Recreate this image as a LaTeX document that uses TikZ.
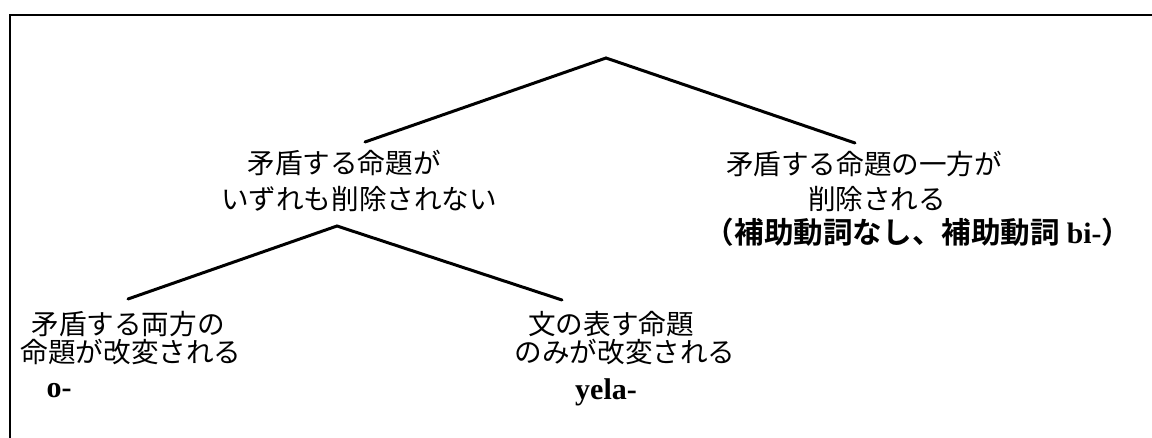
\documentclass[tikz,border=0pt]{standalone}
\usepackage{fontspec}
\setmainfont{Liberation Serif}
\newfontfamily\jp{Noto Sans CJK JP}
\newfontfamily\jpb{Noto Sans CJK JP Bold}
\begin{document}
\begin{tikzpicture}[x=0.5pt,y=-0.5pt,
  jtext/.style={anchor=base,inner sep=0pt,font=\jp\fontsize{13.8pt}{16pt}\selectfont},
  jbold/.style={anchor=base,inner sep=0pt,font=\jpb\fontsize{14.8pt}{16pt}\selectfont},
  ltext/.style={anchor=base,inner sep=0pt,font=\bfseries\fontsize{15pt}{17pt}\selectfont},
  branch/.style={line width=1.5pt,line cap=round,line join=miter},
  frame/.style={line width=1.3pt}]
\useasboundingbox (0,0) rectangle (1152,438);
\draw[frame] (10,438) -- (10,15) -- (1152,15);
% tree points
\coordinate (root) at (606,58);
\coordinate (lmid) at (365,142);
\coordinate (rmid) at (855,143);
\coordinate (lroot) at (337,226);
\coordinate (lleft) at (128,299);
\coordinate (lright) at (562,300);
\draw[branch] (lmid) -- (root) -- (rmid);
\draw[branch] (lleft) -- (lroot) -- (lright);
% left middle label
\node[jtext] (lm1) at (344,174) {矛盾する命題が};
\node[jtext] (lm2) at (359,210) {いずれも削除されない};
% right middle label
\node[jtext] (rm1) at (864,175) {矛盾する命題の一方が};
\node[jtext] (rm2) at (877,210) {削除される};
\node[jbold] (rm3) at (918,244) {（補助動詞なし、補助動詞 {\rmfamily\bfseries bi-}）};
% bottom left
\node[jtext] (bl1) at (128,335) {矛盾する両方の};
\node[jtext] (bl2) at (131,363) {命題が改変される};
\node[ltext] (bl3) at (59,398) {o-};
% bottom right
\node[jtext] (br1) at (611,335) {文の表す命題};
\node[jtext] (br2) at (625,363) {のみが改変される};
\node[ltext] (br3) at (606,400) {yela-};
\end{tikzpicture}
\end{document}
